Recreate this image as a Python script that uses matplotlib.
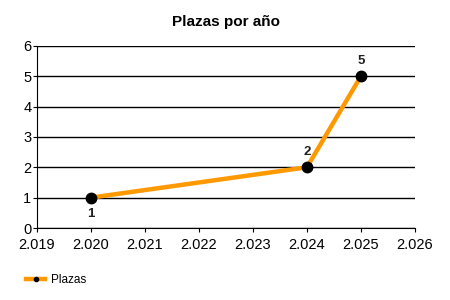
import matplotlib
matplotlib.use("Agg")
import matplotlib.pyplot as plt
from matplotlib.ticker import FuncFormatter, MultipleLocator

plt.rcParams["font.family"] = ["Liberation Sans", "DejaVu Sans"]

years = [2020, 2024, 2025]
plazas = [1, 2, 5]
label_pos = ["below", "above", "above"]

ORANGE = "#ff9900"

fig = plt.figure(figsize=(4.5, 3.0), dpi=100)
fig.patch.set_facecolor("white")
ax = fig.add_axes([0.082, 0.24, 0.84, 0.607])

line, = ax.plot(years, plazas, color=ORANGE, lw=3.2, marker="o", ms=7.5,
                mfc="black", mec="black", label="Plazas", zorder=3)

for x, y, pos in zip(years, plazas, label_pos):
    dy = -12 if pos == "below" else 11
    ax.annotate(str(y), (x, y), xytext=(0, dy), textcoords="offset points",
                ha="center", va="center", fontsize=9.5, fontweight="bold",
                color="#202020")

ax.set_xlim(2019, 2026)
ax.set_ylim(0, 6)
ax.xaxis.set_major_locator(MultipleLocator(1))
ax.yaxis.set_major_locator(MultipleLocator(1))
ax.xaxis.set_major_formatter(FuncFormatter(lambda v, p: f"{int(v):,}".replace(",", ".")))
ax.yaxis.grid(True, color="black", lw=1)
ax.set_axisbelow(True)
for s in ("top", "right"):
    ax.spines[s].set_visible(False)
ax.tick_params(labelsize=10.5, length=3, pad=1, color="black")
ax.tick_params(axis="x", pad=4.5)

ax.set_title("Plazas por año", fontsize=11, fontweight="bold", pad=14)

fig.legend(handles=[line], loc="lower left", bbox_to_anchor=(0.035, 0.01),
           frameon=False, fontsize=8.5, handlelength=1.6, markerscale=0.4,
           handletextpad=0.5)

fig.savefig("out.png", dpi=100, facecolor="white")
